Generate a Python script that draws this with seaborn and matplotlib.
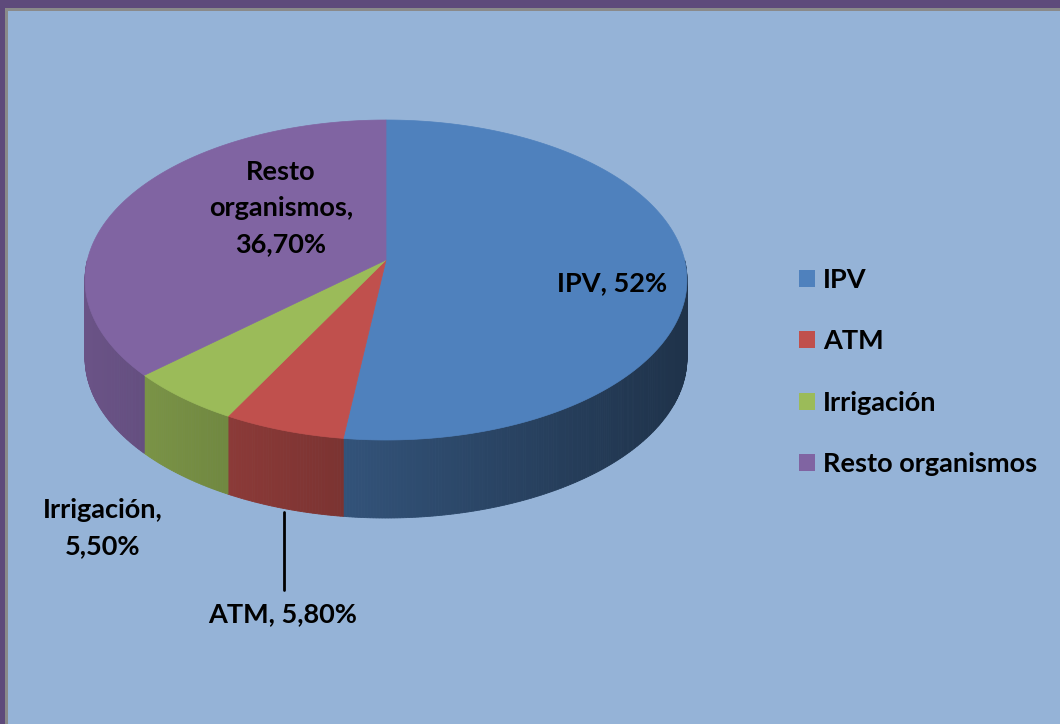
import numpy as np
import matplotlib
matplotlib.use("Agg")
import matplotlib.pyplot as plt
from matplotlib.patches import Polygon, Rectangle, Patch
import seaborn as sns

# data
labels = ["IPV", "ATM", "Irrigación", "Resto organismos"]
values = [52.0, 5.8, 5.5, 36.7]
label_texts = ["IPV, 52%", "ATM, 5,80%", "Irrigación,\n5,50%", "Resto\norganismos,\n36,70%"]
colors = ["#4F81BD", "#C0504D", "#9BBB59", "#8064A2"]

sns.set_theme(style="white")
plt.rcParams["font.family"] = ["Lato", "DejaVu Sans"]
palette = sns.color_palette(colors)

W, H = 1060, 724
fig = plt.figure(figsize=(W / 100, H / 100), dpi=100)
fig.patch.set_facecolor("#5E4A7B")
ax = fig.add_axes([0, 0, 1, 1])
ax.set_xlim(0, W)
ax.set_ylim(H, 0)
ax.axis("off")

# panel
ax.add_patch(Rectangle((5, 8), W, H, facecolor="#8A8A8A", edgecolor="none", zorder=0))
ax.add_patch(Rectangle((8, 11), W, H, facecolor="#95B3D7", edgecolor="none", zorder=0))

# pie geometry (pixels), simple perspective: far half looks smaller
cx, cy, A, B, k, depth = 386, 260, 298.6, 157.5, 0.125, 78


def pt(theta_deg):
    t = np.radians(theta_deg)
    u, v = np.sin(t), np.cos(t)
    d = 1 + k * v
    return cx + A * u / d, cy - B * v / d


fracs = np.array(values) / np.sum(values)
bounds = np.concatenate([[0], np.cumsum(fracs) * 360])

# side walls (front part)
for i, col in enumerate(palette):
    lo, hi = max(bounds[i], 90), min(bounds[i + 1], 270)
    if lo >= hi:
        continue
    ths = np.linspace(lo, hi, max(int((hi - lo) * 2), 2))
    base = np.array(col)
    for t0, t1 in zip(ths[:-1], ths[1:]):
        x0, y0 = pt(t0)
        x1, y1 = pt(t1)
        xm = (x0 + x1) / 2
        f = 0.83 - 0.00073 * (xm - 85)
        c = np.clip(base * f, 0, 1)
        ax.add_patch(Polygon([(x0, y0), (x1, y1), (x1, y1 + depth), (x0, y0 + depth)],
                             closed=True, facecolor=c, edgecolor=c, lw=0.6, zorder=2))

# top faces
for i, col in enumerate(palette):
    ths = np.linspace(bounds[i], bounds[i + 1], max(int(fracs[i] * 720), 4))
    poly = [(cx, cy)] + [pt(t) for t in ths]
    ax.add_patch(Polygon(poly, closed=True, facecolor=col, edgecolor=col, lw=0.5, zorder=3))

# data labels
fs = 19.5
label_pos = [(612, 283), (283, 614), (103, 528), (281, 208)]
for txt, (x, y) in zip(label_texts, label_pos):
    ax.text(x, y, txt, ha="center", va="center", fontsize=fs, fontweight="bold",
            color="black", linespacing=1.6, zorder=5)

# leader line for ATM
ax.plot([284, 284], [512, 590], color="black", lw=2, zorder=4)

# legend
handles = [Patch(facecolor=c, edgecolor="none") for c in palette]
leg = ax.legend(handles, labels, loc="upper left", bbox_to_anchor=(799 / W, 1 - 268 / H),
                frameon=False, prop={"weight": "bold", "size": fs},
                handlelength=0.58, handleheight=0.58, handletextpad=0.3,
                labelspacing=1.38, borderpad=0, borderaxespad=0)
for t in leg.get_texts():
    t.set_color("black")

fig.savefig("out.png", dpi=100, facecolor=fig.get_facecolor())
